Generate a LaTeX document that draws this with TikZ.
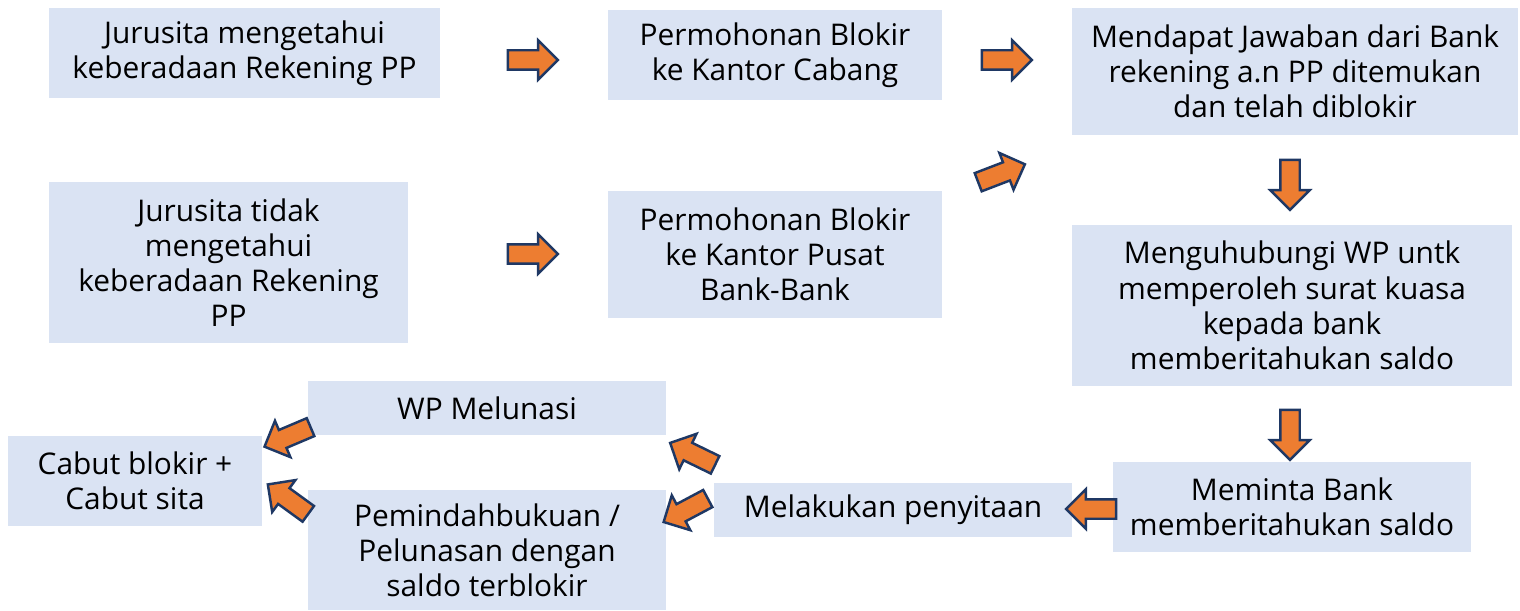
\documentclass[tikz,border=0pt]{standalone}
\usepackage{fontspec}
\setmainfont{Open Sans}
\usepackage{tikz}
\usetikzlibrary{shapes.arrows,positioning}
\definecolor{boxblue}{HTML}{DAE3F3}
\definecolor{arroworange}{HTML}{ED7D31}
\definecolor{arrowline}{HTML}{1F3864}
\tikzset{
    flow box/.style={
        fill=boxblue,inner sep=2pt,align=center,
        font=\fontsize{17}{20}\selectfont
    },
    block arrow/.style={
        single arrow,draw=arrowline,line width=1.4pt,
        fill=arroworange,minimum height=1cm,
        inner sep=0.17cm,single arrow head extend=0.2cm,
        single arrow tip angle=90
    }
}

\begin{document}
\begin{tikzpicture}[x=0.02cm,y=-0.02cm]
\useasboundingbox (0,0) rectangle (1520,611);
% top row
\node[flow box,minimum width=7.82cm,minimum height=1.8cm] (tahu) at (244.5,53)
    {Jurusita mengetahui\\keberadaan Rekening PP};
\node[flow box,minimum width=6.68cm,minimum height=1.8cm] (cabang) at (775,55)
    {Permohonan Blokir\\ke Kantor Cabang};
\node[flow box,minimum width=8.92cm,minimum height=2.54cm] (jawaban) at (1295,71.5)
    {Mendapat Jawaban dari Bank\\rekening a.n PP ditemukan\\dan telah diblokir};
% middle row
\node[flow box,minimum width=7.18cm,minimum height=3.22cm] (tidaktahu) at (228.5,262.5)
    {Jurusita tidak\\mengetahui\\keberadaan Rekening\\PP};
\node[flow box,minimum width=6.68cm,minimum height=2.54cm] (pusat) at (775,254.5)
    {Permohonan Blokir\\ke Kantor Pusat\\Bank-Bank};
\node[flow box,minimum width=8.8cm,minimum height=3.22cm] (hubungi) at (1292,305.5)
    {Menguhubungi WP untk\\memperoleh surat kuasa\\kepada bank\\memberitahukan saldo};
% bottom row
\node[flow box,minimum width=7.16cm,minimum height=1.8cm] (saldo) at (1292,507)
    {Meminta Bank\\memberitahukan saldo};
\node[flow box,minimum width=7.16cm,minimum height=1.08cm] (sita) at (893,510)
    {Melakukan penyitaan};
\node[flow box,minimum width=7.16cm,minimum height=1.08cm] (lunas) at (487,408)
    {WP Melunasi};
\node[flow box,minimum width=7.16cm,minimum height=2.4cm] (pindah) at (487,550)
    {Pemindahbukuan /\\Pelunasan dengan\\saldo terblokir};
\node[flow box,minimum width=5.08cm,minimum height=1.8cm] (cabut) at (135,481)
    {Cabut blokir +\\Cabut sita};
% block arrows
\foreach \i/\x/\y/\ang in {1/528/60/0,2/1002/60/0,3/528/254/0,4/997/175/21,
        5/1290/180/-90,6/1290/430/-90,7/1096/509/180,8/697/456/154,
        9/690/508/208,10/292/435/203,11/292/502/144}
    \node[block arrow,rotate=\ang] (arr_\i) at (\x,\y) {};
\end{tikzpicture}
\end{document}
